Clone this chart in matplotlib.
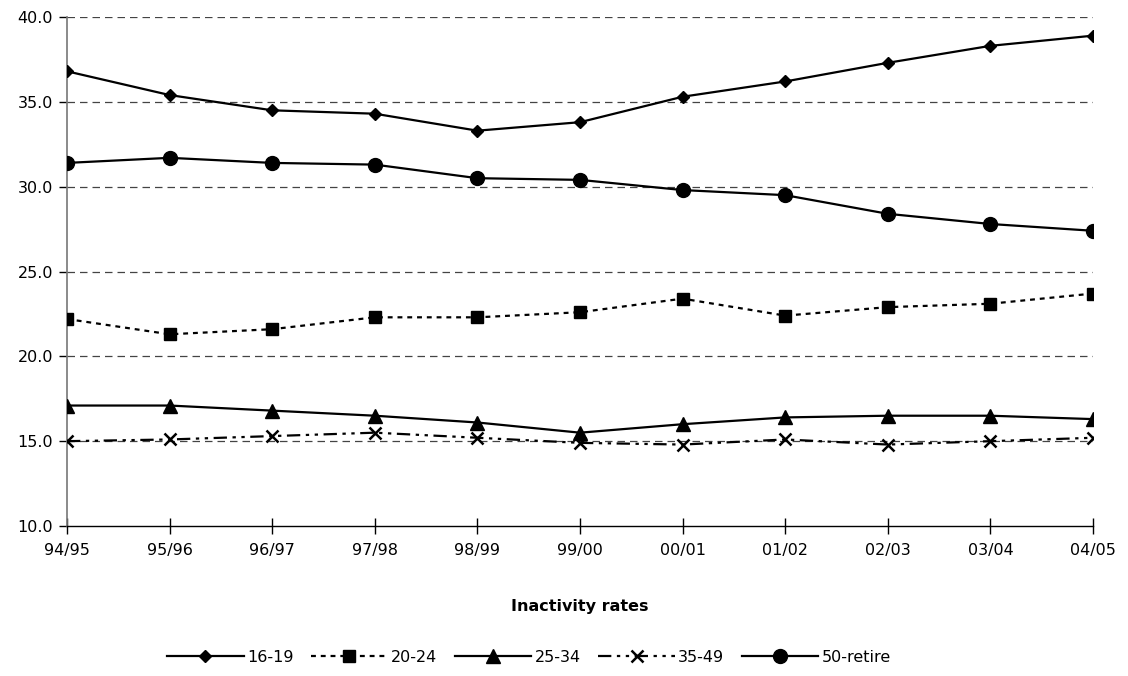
import matplotlib
matplotlib.use("Agg")
import matplotlib.pyplot as plt
from matplotlib.lines import Line2D

# ====== data ======
years = ["94/95", "95/96", "96/97", "97/98", "98/99", "99/00",
         "00/01", "01/02", "02/03", "03/04", "04/05"]
age_16_19 = [36.8, 35.4, 34.5, 34.3, 33.3, 33.8, 35.3, 36.2, 37.3, 38.3, 38.9]
age_20_24 = [22.2, 21.3, 21.6, 22.3, 22.3, 22.6, 23.4, 22.4, 22.9, 23.1, 23.7]
age_25_34 = [17.1, 17.1, 16.8, 16.5, 16.1, 15.5, 16.0, 16.4, 16.5, 16.5, 16.3]
age_35_49 = [15.0, 15.1, 15.3, 15.5, 15.2, 14.9, 14.8, 15.1, 14.8, 15.0, 15.2]
age_50_ret = [31.4, 31.7, 31.4, 31.3, 30.5, 30.4, 29.8, 29.5, 28.4, 27.8, 27.4]
y_ticks = [10, 15, 20, 25, 30, 35, 40]

plt.rcParams["font.family"] = ["DejaVu Sans"]
plt.rcParams["font.size"] = 11.5

fig = plt.figure(figsize=(11.28, 6.76), dpi=100)
ax = fig.add_axes([67 / 1128, 1 - 526 / 676, (1093 - 67) / 1128, (526 - 17) / 676])

x = list(range(len(years)))
# (values, label, marker, size, linestyle)
series = [
    (age_16_19, "16-19", "D", 6, "-"),
    (age_20_24, "20-24", "s", 9, (0, (2.2, 2.2))),
    (age_25_34, "25-34", "^", 9.5, "-"),
    (age_35_49, "35-49", "x", 9, (0, (6, 2.5, 1.5, 2.5, 1.5, 2.5))),
    (age_50_ret, "50-retire", "o", 10, "-"),
]
handles = []
for vals, lab, mk, ms, ls in series:
    style = dict(color="black", linestyle=ls, linewidth=1.6,
                 marker=mk, markersize=ms,
                 markeredgewidth=1.8 if mk == "x" else 1,
                 markerfacecolor="black", markeredgecolor="black")
    ax.plot(x, vals, zorder=3, **style)
    handles.append(Line2D([], [], **style))

ax.set_xlim(0, len(years) - 1)
ax.set_ylim(10, 40)
ax.set_xticks(x)
ax.set_xticklabels(years)
ax.set_yticks(y_ticks)
ax.set_yticklabels([f"{v:.1f}" for v in y_ticks])

for v in y_ticks[1:]:
    ax.axhline(v, color="#444444", linestyle=(0, (6, 4)), linewidth=0.9, zorder=1)

for s in ["top", "right"]:
    ax.spines[s].set_visible(False)
ax.spines["left"].set_color("#777777")
ax.spines["left"].set_linewidth(1.2)
ax.spines["bottom"].set_color("black")
ax.spines["bottom"].set_linewidth(1)
ax.tick_params(axis="x", direction="inout", length=12, width=1, pad=6)
ax.tick_params(axis="y", direction="out", length=6, width=1, pad=4)

ax.set_xlabel("Inactivity rates", fontweight="bold", labelpad=30)

fig.legend(handles, [s[1] for s in series], loc="center",
           bbox_to_anchor=(529 / 1128, 1 - 657 / 676), ncol=5, frameon=False,
           handlelength=4.8, handletextpad=0.2, columnspacing=1.1)

plt.savefig("out.png", dpi=100)
plt.close()
